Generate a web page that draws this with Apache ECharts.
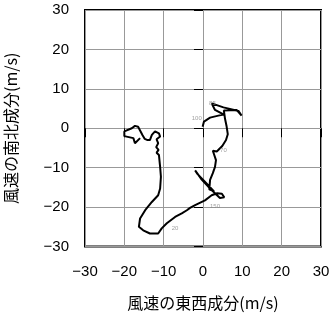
<!DOCTYPE html>
<html><head><meta charset="utf-8">
<script src="https://cdn.jsdelivr.net/npm/echarts@6/dist/echarts.min.js"></script>
<style>html,body{margin:0;padding:0;background:#fff}#c{width:331px;height:318px}</style>
</head><body><div id="c"></div>
<script>
// hodograph: east-west (u) and north-south (v) wind components, m/s
const pathU = [-16.0,-17.3,-17.7,-20.0,-20.0,-18.1,-17.3,-16.5,-15.4,-14.8,-14.1,-13.5,-13.0,-12.2,-11.2,-10.9,-11.8,-11.4,-11.9,-11.3,-11.8,-11.2,-10.9,-10.7,-10.9,-11.4,-13.0,-14.7,-16.0,-16.3,-15.2,-13.5,-11.4,-10.5,-9.2,-7.1,-5.4,-4.1,-3.3,-2.0,0.5,2.2,3.6,4.8,5.4,4.3,1.8,-0.5,-2.0,-1.5,0.9,2.8,1.6,1.8,2.5,3.05,3.3,2.8,2.5,3.5,4.9,5.85,6.3,6.0,5.6,5.3,8.6,9.8,9.0,5.2,2.2,3.05,5.2,3.9,1.8,0.25,-0.1];
const pathV = [-2.5,-3.8,-2.5,-2.0,-0.8,0.0,0.6,0.4,-1.7,-2.7,-3.0,-3.0,-1.7,-0.8,-1.3,-2.1,-2.8,-3.8,-4.8,-5.5,-6.2,-6.8,-9.8,-12.3,-15.3,-17.0,-18.7,-20.8,-22.9,-25.0,-25.9,-26.7,-26.7,-25.4,-24.1,-22.5,-21.6,-20.8,-20.2,-19.5,-18.3,-17.0,-16.5,-16.6,-17.5,-17.7,-15.3,-12.8,-10.7,-11.5,-14.0,-16.0,-15.5,-13.1,-11.4,-9.8,-8.1,-6.6,-5.7,-5.9,-4.5,-3.0,-1.5,0.5,2.4,4.5,4.6,3.2,4.4,5.3,6.3,4.65,3.5,3.2,2.7,1.7,0.4];
const markNames = ['20','150','70','85','100'];
const markU = [-7.1,3.05,5.2,2.4,-1.6];
const markV = [-25.4,-19.9,-5.6,6.4,2.4];
const tickValues = [-30,-20,-10,0,10,20,30];

const lineData = pathU.map((u,i)=>[u,pathV[i]]);
const markData = markNames.map((n,i)=>[markU[i],markV[i],n]);
const fontFam = '"Liberation Sans", Arial, sans-serif';
const cjkFam = '"Noto Sans CJK JP", "Liberation Sans", sans-serif';

const axisCommon = {
  type:'value', min:-30, max:30, interval:10,
  axisLine:{show:false},
  axisTick:{show:true, length:9, lineStyle:{color:'#000', width:1}},
  splitLine:{show:true, lineStyle:{color:'#999', width:1}},
  axisLabel:{color:'#000', fontSize:15, fontFamily:fontFam,
    formatter:v=>String(v).replace('-','\u2212')},
  nameLocation:'middle',
  nameTextStyle:{color:'#000', fontSize:16, fontFamily:cjkFam}
};

const chart = echarts.init(document.getElementById('c'), null, {renderer:'canvas'});
chart.setOption({
  animation:false,
  grid:{left:85, right:10, top:10, bottom:71.5, show:true, borderColor:'#000', borderWidth:2,
        backgroundColor:'transparent', containLabel:false, outerBoundsMode:'none'},
  xAxis:Object.assign({}, axisCommon, {name:'風速の東西成分(m/s)', nameGap:48, axisLabel:Object.assign({}, axisCommon.axisLabel, {margin:18})}),
  yAxis:Object.assign({}, axisCommon, {name:'風速の南北成分(m/s)', nameGap:66, axisLabel:Object.assign({}, axisCommon.axisLabel, {margin:16})}),
  series:[
    {type:'line', data:lineData, showSymbol:false, symbol:'none', smooth:false,
     lineStyle:{color:'#000', width:2}, z:3},
    {type:'scatter', data:markData, symbolSize:0, z:4,
     label:{show:true, position:'inside', formatter:p=>p.data[2], color:'#888', fontSize:6, fontFamily:fontFam}}
  ]
});
</script></body></html>
